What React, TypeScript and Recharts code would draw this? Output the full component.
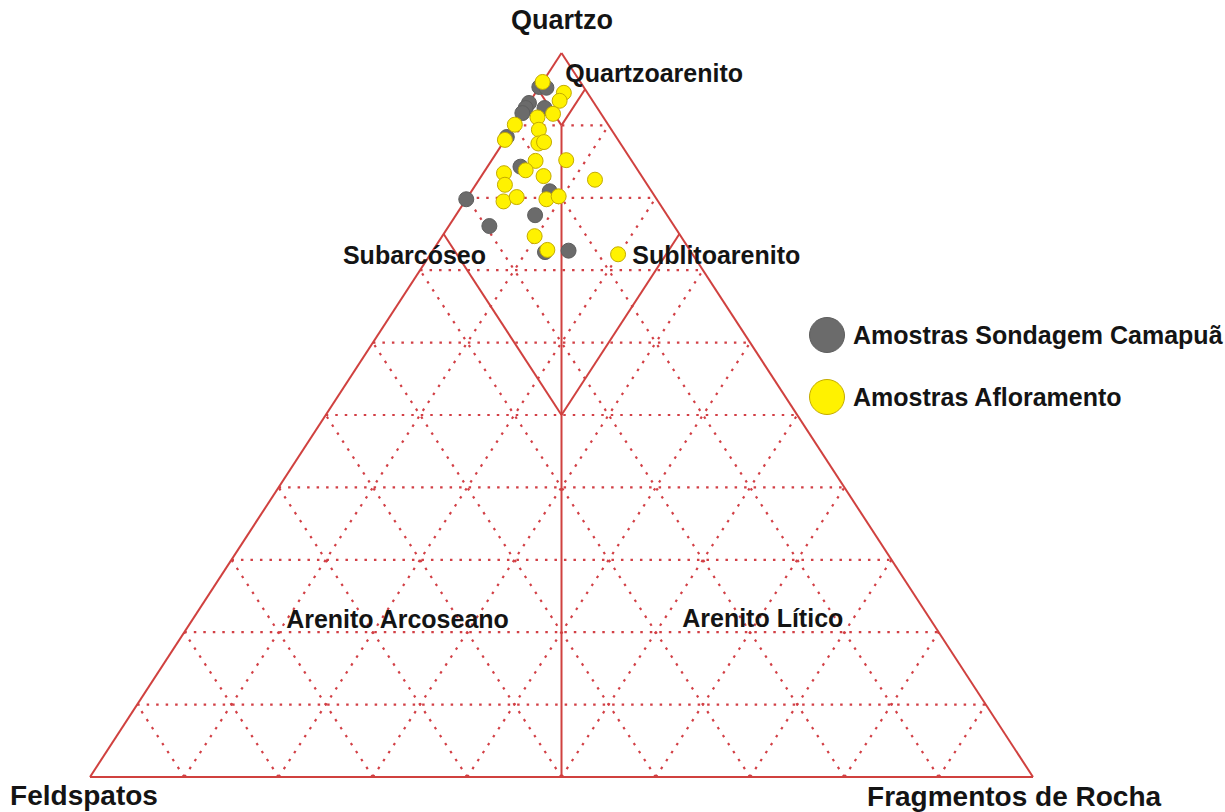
import React from "react";
import {
  ScatterChart,
  Scatter,
  XAxis,
  YAxis,
  ReferenceLine,
  ReferenceDot,
  Legend,
} from "recharts";

// Amostras Sondagem Camapuã — % Quartzo, Feldspatos, Fragmentos de Rocha
const sondagemQ = [95.3, 95.2, 93.1, 92.4, 91.7, 92.4, 88.4, 84.3, 80.9, 79.8, 77.6, 76.1, 72.5, 72.7];
const sondagemF = [4.7, 4.0, 6.9, 7.6, 8.3, 5.6, 11.6, 12.2, 10.8, 20.2, 14.0, 19.6, 15.5, 12.9];
const sondagemR = [0, 0.8, 0, 0, 0, 2.0, 0, 3.5, 8.3, 0, 8.4, 4.3, 12.0, 14.4];

// Amostras Afloramento
const afloramentoQ = [96.0, 94.5, 93.4, 91.6, 91.1, 90.1, 88.0, 89.4, 87.5, 87.7, 85.1, 83.8, 85.2, 83.4, 83.0, 81.8, 79.5, 80.1, 79.8, 80.2, 82.5, 74.7, 72.8, 72.2];
const afloramentoF = [4.0, 2.5, 3.5, 5.1, 7.0, 9.9, 12.0, 7.7, 8.7, 8.0, 10.2, 11.9, 6.9, 14.4, 10.4, 15.1, 16.4, 14.7, 11.7, 10.2, 5.2, 15.5, 15.1, 7.9];
const afloramentoR = [0, 3.0, 3.1, 3.3, 1.9, 0, 0, 2.9, 3.8, 4.3, 4.7, 4.3, 7.9, 2.2, 6.6, 3.1, 4.1, 5.2, 8.5, 9.6, 12.3, 9.8, 12.1, 19.9];

// grid every 10 %
const gridSteps = [10, 20, 30, 40, 50, 60, 70, 80, 90];

// classification boundaries as [Q, F, R] end points
const boundaries: number[][][] = [
  [[100, 0, 0], [0, 100, 0]],
  [[100, 0, 0], [0, 0, 100]],
  [[0, 100, 0], [0, 0, 100]],
  [[95, 5, 0], [90, 5, 5]],
  [[95, 0, 5], [90, 5, 5]],
  [[90, 5, 5], [0, 50, 50]],
  [[75, 25, 0], [50, 25, 25]],
  [[75, 0, 25], [50, 25, 25]],
];

const RED = "#d0413f";
const DOT_RED = "#d23f45";
const FONT = "'Liberation Sans', Arial, sans-serif";

// ternary -> cartesian (x from Feldspatos to Fragmentos, y = quartzo)
const toXY = (q: number, f: number, r: number) => ({ x: r + q / 2, y: q, q, f, r });

const sondagem = sondagemQ.map((q, i) => toXY(q, sondagemF[i], sondagemR[i]));
const afloramento = afloramentoQ.map((q, i) => toXY(q, afloramentoF[i], afloramentoR[i]));

const gridLines: { x: number; y: number }[][] = [];
gridSteps.forEach((g) => {
  gridLines.push([toXY(g, 100 - g, 0), toXY(g, 0, 100 - g)]);
  gridLines.push([toXY(0, 100 - g, g), toXY(100 - g, 0, g)]);
  gridLines.push([toXY(0, g, 100 - g), toXY(100 - g, g, 0)]);
});

// text labels: [text, x, y, anchor, size]
const labels: [string, number, number, "start" | "middle" | "end", number][] = [
  ["Quartzo", 50.05, 103.3, "middle", 27],
  ["Quartzoarenito", 50.4, 96.0, "start", 25],
  ["Subarcóseo", 42.0, 70.8, "end", 25],
  ["Sublitoarenito", 57.5, 70.8, "start", 25],
  ["Arenito Arcoseano", 20.8, 20.6, "start", 25],
  ["Arenito Lítico", 62.8, 20.7, "start", 25],
  ["Feldspatos", 7.2, -3.9, "end", 28],
  ["Fragmentos de Rocha", 82.4, -4.0, "start", 28],
];

const series = [
  { name: "Amostras Sondagem Camapuã", data: sondagem, fill: "#6b6b6b", stroke: "#5e5e5e" },
  { name: "Amostras Afloramento", data: afloramento, fill: "#fff200", stroke: "#c4ab00" },
];

const LegendBox = () => (
  <div style={{ fontFamily: FONT }}>
    {series.map((s) => (
      <div
        key={s.name}
        style={{ display: "flex", alignItems: "center", height: 36, marginBottom: 26 }}
      >
        <div
          style={{
            width: 36,
            height: 36,
            borderRadius: "50%",
            background: s.fill,
            border: `1px solid ${s.stroke}`,
            boxSizing: "border-box",
            flexShrink: 0,
          }}
        />
        <span
          style={{
            marginLeft: 8,
            fontSize: 25,
            fontWeight: "bold",
            color: "#141414",
            whiteSpace: "nowrap",
          }}
        >
          {s.name}
        </span>
      </div>
    ))}
  </div>
);

export default function App() {
  return (
    <div style={{ position: "absolute", left: 0, top: 0, background: "#fff" }}>
      <ScatterChart
        width={1225}
        height={812}
        margin={{ top: 53, right: 192, bottom: 35, left: 90 }}
      >
        <XAxis type="number" dataKey="x" domain={[0, 100]} allowDataOverflow hide />
        <YAxis type="number" dataKey="y" domain={[0, 100]} allowDataOverflow hide />

        {gridLines.map((seg, i) => (
          <ReferenceLine
            key={`g${i}`}
            segment={seg}
            stroke={DOT_RED}
            strokeWidth={2.2}
            strokeDasharray="2.5 7"
            ifOverflow="visible"
          />
        ))}
        {boundaries.map(([a, b], i) => (
          <ReferenceLine
            key={`b${i}`}
            segment={[toXY(a[0], a[1], a[2]), toXY(b[0], b[1], b[2])]}
            stroke={RED}
            strokeWidth={2}
            ifOverflow="visible"
          />
        ))}

        {series.map((s) => (
          <Scatter
            key={s.name}
            name={s.name}
            data={s.data}
            fill={s.fill}
            isAnimationActive={false}
            shape={(p: any) => (
              <circle cx={p.cx} cy={p.cy} r={7.5} fill={s.fill} stroke={s.stroke} strokeWidth={1} />
            )}
          />
        ))}

        {labels.map(([text, x, y, anchor, size]) => (
          <ReferenceDot
            key={text}
            x={x}
            y={y}
            r={0}
            ifOverflow="visible"
            shape={(p: any) => (
              <text
                x={p.cx}
                y={p.cy}
                textAnchor={anchor}
                fontFamily={FONT}
                fontWeight="bold"
                fontSize={size}
                fill="#141414"
              >
                {text}
              </text>
            )}
          />
        ))}

        <Legend
          layout="vertical"
          align="center"
          verticalAlign="middle"
          content={<LegendBox />}
          wrapperStyle={{ left: 809, top: 317, width: 416 }}
        />
      </ScatterChart>
    </div>
  );
}
